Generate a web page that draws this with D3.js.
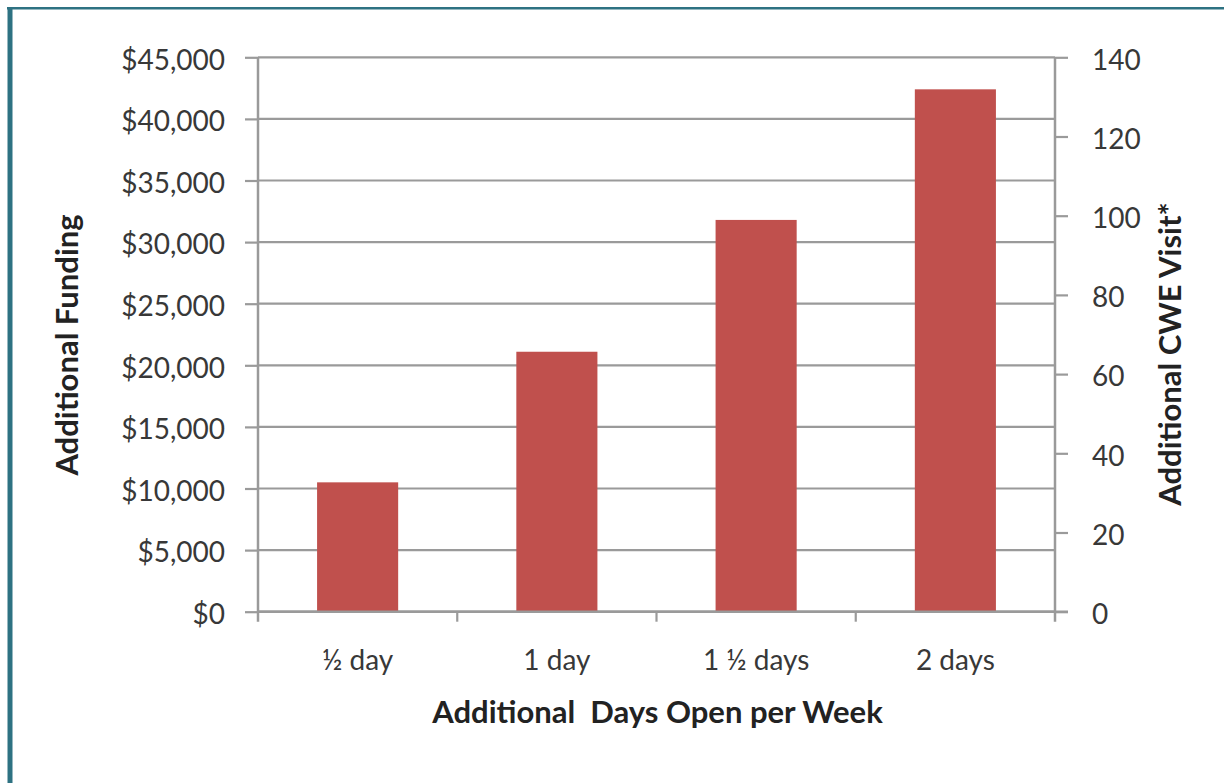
<!DOCTYPE html>
<html>
<head>
<meta charset="utf-8">
<script src="https://cdn.jsdelivr.net/npm/d3@7"></script>
<style>
  html, body { margin: 0; padding: 0; background: #fff; }
  svg { display: block; }
  text { font-family: Lato, "Open Sans", sans-serif; }
</style>
</head>
<body>
<svg id="chart" width="1224" height="783"></svg>
<script>
// ---- data ----
const categories = ["\u00BD day", "1 day", "1 \u00BD days", "2 days"];
const fundingValues = [10500, 21100, 31800, 42400];
const leftTicks = [0, 5000, 10000, 15000, 20000, 25000, 30000, 35000, 40000, 45000];
const rightTicks = [0, 20, 40, 60, 80, 100, 120, 140];
const leftTitle = "Additional Funding";
const rightTitle = "Additional CWE Visit*";
const bottomTitle = "Additional  Days Open per Week";

// ---- layout ----
const svg = d3.select("#chart");
const W = 1224, H = 783;
const plot = { left: 258, right: 1055, top: 57.3, bottom: 611.7 };
const textColor = "#383838";
const titleColor = "#222";
const gridColor = "#9a9a9a";
const barColor = "#C0504D";
const tickFont = "28px";
const titleFont = "31px";

svg.append("rect").attr("width", W).attr("height", H).attr("fill", "#fff");

// frame (teal border at top and left)
svg.append("line").attr("x1", 7).attr("x2", W).attr("y1", 8.3).attr("y2", 8.3)
  .attr("stroke", "#2E7282").attr("stroke-width", 2.5);
svg.append("line").attr("x1", 10).attr("x2", 10).attr("y1", 7).attr("y2", H)
  .attr("stroke", "#2E7282").attr("stroke-width", 5);

const y = d3.scaleLinear().domain([0, 45000]).range([plot.bottom, plot.top]);
const y2 = d3.scaleLinear().domain([0, 140]).range([plot.bottom, plot.top]);
const x = d3.scaleBand().domain(categories).range([plot.left, plot.right])
  .paddingInner(0.593).paddingOuter(0.2965);

// gridlines
svg.append("g").selectAll("line").data(leftTicks).join("line")
  .attr("x1", plot.left).attr("x2", plot.right)
  .attr("y1", d => y(d)).attr("y2", d => y(d))
  .attr("stroke", gridColor).attr("stroke-width", 2.2);

// bars
svg.append("g").selectAll("rect").data(fundingValues).join("rect")
  .attr("x", (d, i) => x(categories[i]))
  .attr("width", x.bandwidth())
  .attr("y", d => y(d))
  .attr("height", d => y(0) - y(d))
  .attr("fill", barColor);

// left axis
const fmt = d3.format(",");
const gL = svg.append("g").attr("transform", `translate(${plot.left},0)`)
  .call(d3.axisLeft(y).tickValues(leftTicks).tickSize(13).tickPadding(20)
    .tickFormat(d => "$" + fmt(d)));
gL.select(".domain").attr("stroke", gridColor).attr("stroke-width", 2.5)
  .attr("d", `M0,${plot.top}V${plot.bottom + 10}`);
gL.selectAll(".tick line").attr("stroke", gridColor).attr("stroke-width", 2.2);
gL.selectAll(".tick text").attr("fill", textColor).style("font-size", tickFont)
  .attr("font-family", "Lato").attr("dy", "0.42em");

// right axis
const gR = svg.append("g").attr("transform", `translate(${plot.right},0)`)
  .call(d3.axisRight(y2).tickValues(rightTicks).tickSize(13).tickPadding(24));
gR.select(".domain").attr("stroke", gridColor).attr("stroke-width", 2.5)
  .attr("d", `M0,${plot.top}V${plot.bottom + 10}`);
gR.selectAll(".tick line").attr("stroke", gridColor).attr("stroke-width", 2.2);
gR.selectAll(".tick text").attr("fill", textColor).style("font-size", tickFont)
  .attr("font-family", "Lato").attr("dy", "0.42em");

// bottom axis baseline and boundary ticks
svg.append("line").attr("x1", plot.left).attr("x2", plot.right + 13)
  .attr("y1", y(0)).attr("y2", y(0))
  .attr("stroke", gridColor).attr("stroke-width", 2.5);
const boundaries = categories.slice(1).map(c => x(c) - x.step() * x.paddingInner() / 2);
svg.append("g").selectAll("line").data(boundaries).join("line")
  .attr("x1", d => d).attr("x2", d => d)
  .attr("y1", y(0)).attr("y2", y(0) + 10)
  .attr("stroke", gridColor).attr("stroke-width", 2.2);

// category labels
svg.append("g").selectAll("text").data(categories).join("text")
  .attr("x", d => x(d) + x.bandwidth() / 2)
  .attr("y", 670)
  .attr("text-anchor", "middle")
  .attr("fill", textColor)
  .style("font-size", tickFont)
  .text(d => d);

// axis titles
svg.append("text")
  .attr("transform", `translate(78,345) rotate(-90)`)
  .attr("text-anchor", "middle")
  .attr("fill", titleColor)
  .style("font-size", titleFont).style("font-weight", "bold")
  .text(leftTitle);

svg.append("text")
  .attr("transform", `translate(1181,354) rotate(-90)`)
  .attr("text-anchor", "middle")
  .attr("fill", titleColor)
  .style("font-size", titleFont).style("font-weight", "bold")
  .text(rightTitle);

svg.append("text")
  .attr("x", 657.5).attr("y", 723)
  .attr("text-anchor", "middle")
  .attr("fill", titleColor)
  .style("font-size", titleFont).style("font-weight", "bold")
  .style("white-space", "pre")
  .text(bottomTitle);
</script>
</body>
</html>
